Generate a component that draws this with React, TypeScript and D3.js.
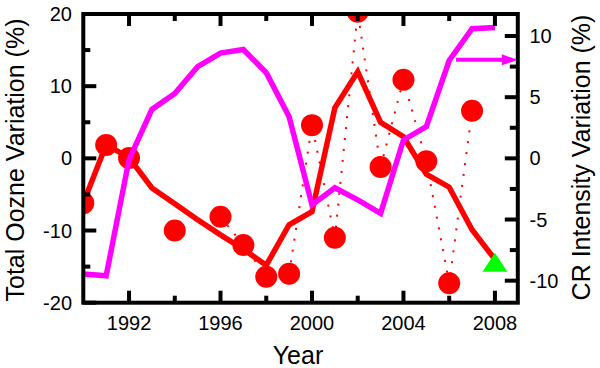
import React from "react";
import * as d3 from "d3";

// ---- data ----
const years = [1990, 1991, 1992, 1993, 1994, 1995, 1996, 1997, 1998, 1999, 2000, 2001, 2002, 2003, 2004, 2005, 2006, 2007, 2008];
// smoothed total ozone variation (%), left axis
const ozoneTrend = [-6.2, 1.9, 0.1, -4.1, -6.3, -8.5, -10.6, -12.6, -14.8, -9.2, -7.4, 7.0, 12.0, 5.0, 3.0, -2.2, -4.0, -9.9, -14.0];
// observed total ozone variation (%), left axis (null = no value)
const ozoneObs: (number | null)[] = [-6.2, 1.85, 0.05, null, -10.0, null, -8.1, -12.0, -16.4, -16.0, 4.6, -11.0, 20.3, -1.2, 10.9, -0.4, -17.3, 6.6, null];
// CR intensity variation (%), right axis
const crIntensity = [-9.45, -9.6, -0.1, 4.0, 5.3, 7.5, 8.6, 8.9, 7.0, 3.4, -3.8, -2.4, -3.4, -4.5, 1.5, 2.6, 8.0, 10.6, 10.7];
// green triangle (2008 ozone estimate), left axis
const triangleYear = 2008;
const triangleValue = -14.4;
// arrow pointing to the right axis
const arrowFromYear = 2006.3;
const arrowToYear = 2009;
const arrowValue = 8.05;

const xTicksMajor = [1992, 1996, 2000, 2004, 2008];
const xTicksMinor = [1994, 1998, 2002, 2006];
const leftTicksMajor = [20, 10, 0, -10, -20];
const leftTicksMinor = [15, 5, -5, -15];
const rightTicksMajor = [10, 5, 0, -5, -10];
const rightTicksMinor = [7.5, 2.5, -2.5, -7.5];

const W = 600;
const H = 368;
const L = 83.3;
const R = 517.8;
const T = 14;
const B = 302.7;

const FONT = "'Liberation Sans', Arial, Helvetica, sans-serif";

export default function App() {
  const x = d3.scaleLinear().domain([1990, 2009]).range([L, R]);
  const yL = d3.scaleLinear().domain([-20, 20]).range([B, T]);
  const yR = d3.scaleLinear().domain([-11.8, 11.8]).range([B, T]);

  const trendLine = d3
    .line<number>()
    .x((_, i) => x(years[i]))
    .y((d) => yL(d))(ozoneTrend) as string;

  const crLine = d3
    .line<number>()
    .x((_, i) => x(years[i]))
    .y((d) => yR(d))(crIntensity) as string;

  const obsLine = d3
    .line<number | null>()
    .defined((d) => d !== null)
    .x((_, i) => x(years[i]))
    .y((d) => yL(d as number))(ozoneObs) as string;

  const tx = x(triangleYear);
  const ty = yL(triangleValue);
  const triW = 25;
  const triH = 19;
  const triPts = `${tx},${ty - triH / 2} ${tx - triW / 2},${ty + triH / 2} ${tx + triW / 2},${ty + triH / 2}`;

  const ax1 = x(arrowFromYear);
  const ax2 = x(arrowToYear);
  const ay = yR(arrowValue);
  const headLen = 16;
  const headHalf = 5.5;

  const sw = 4;
  const majorLen = 13;
  const minorLen = 7;

  return (
    <svg width={W} height={H} style={{ position: "absolute", left: 0, top: 0, background: "#fff" }} fontFamily={FONT}>
      <defs>
        <clipPath id="plotClip">
          <rect x={L} y={T} width={R - L} height={B - T} />
        </clipPath>
      </defs>

      <g clipPath="url(#plotClip)">
        {/* dotted line connecting observations */}
        <path d={obsLine} fill="none" stroke="#ff0000" strokeWidth={2} strokeDasharray="2 9" />
        {/* thick red trend */}
        <path d={trendLine} fill="none" stroke="#ff0000" strokeWidth={5.5} strokeLinejoin="miter" />
        {/* observation circles */}
        {ozoneObs.map((v, i) =>
          v === null ? null : <circle key={i} cx={x(years[i])} cy={yL(v)} r={11} fill="#ff0000" />
        )}
        {/* CR intensity */}
        <path d={crLine} fill="none" stroke="#ff00ff" strokeWidth={5.5} strokeLinejoin="miter" />
      </g>

      {/* green triangle */}
      <polygon points={triPts} fill="#00ff00" />

      {/* arrow */}
      <line x1={ax1} y1={ay} x2={ax2 - headLen + 2} y2={ay} stroke="#ff00ff" strokeWidth={4} />
      <polygon points={`${ax2},${ay} ${ax2 - headLen},${ay - headHalf} ${ax2 - headLen},${ay + headHalf}`} fill="#ff00ff" />

      {/* frame */}
      <rect x={L} y={T} width={R - L} height={B - T} fill="none" stroke="#000" strokeWidth={sw} />

      {/* x ticks bottom & top */}
      {xTicksMajor.map((t) => (
        <g key={"xm" + t}>
          <line x1={x(t)} x2={x(t)} y1={B} y2={B - 12} stroke="#000" strokeWidth={sw} />
          <line x1={x(t)} x2={x(t)} y1={T} y2={T + 12} stroke="#000" strokeWidth={sw} />
          <text x={x(t)} y={330} fontSize={20} textAnchor="middle" fill="#000">
            {t}
          </text>
        </g>
      ))}
      {xTicksMinor.map((t) => (
        <g key={"xn" + t}>
          <line x1={x(t)} x2={x(t)} y1={B} y2={B - minorLen} stroke="#000" strokeWidth={sw} />
          <line x1={x(t)} x2={x(t)} y1={T} y2={T + minorLen} stroke="#000" strokeWidth={sw} />
        </g>
      ))}

      {/* left ticks */}
      {leftTicksMajor.map((t) => (
        <g key={"lm" + t}>
          <line x1={L} x2={L + majorLen} y1={yL(t)} y2={yL(t)} stroke="#000" strokeWidth={sw} />
          <text x={72} y={yL(t)} dy="0.35em" fontSize={20} textAnchor="end" fill="#000">
            {t}
          </text>
        </g>
      ))}
      {leftTicksMinor.map((t) => (
        <line key={"ln" + t} x1={L} x2={L + minorLen} y1={yL(t)} y2={yL(t)} stroke="#000" strokeWidth={sw} />
      ))}

      {/* right ticks */}
      {rightTicksMajor.map((t) => (
        <g key={"rm" + t}>
          <line x1={R} x2={R - majorLen} y1={yR(t)} y2={yR(t)} stroke="#000" strokeWidth={sw} />
          <text x={529.5} y={yR(t)} dy="0.35em" fontSize={20} textAnchor="start" fill="#000">
            {t}
          </text>
        </g>
      ))}
      {rightTicksMinor.map((t) => (
        <line key={"rn" + t} x1={R} x2={R - 8} y1={yR(t)} y2={yR(t)} stroke="#000" strokeWidth={sw} />
      ))}

      {/* axis titles */}
      <text x={298} y={364} fontSize={25} textAnchor="middle" fill="#000">
        Year
      </text>
      <text transform="translate(24,160) rotate(-90)" fontSize={25} textAnchor="middle" fill="#000">
        Total Oozne Variation (%)
      </text>
      <text transform="translate(590,157.5) rotate(-90)" fontSize={25} textAnchor="middle" fill="#000">
        CR Intensity Variation (%)
      </text>
    </svg>
  );
}
